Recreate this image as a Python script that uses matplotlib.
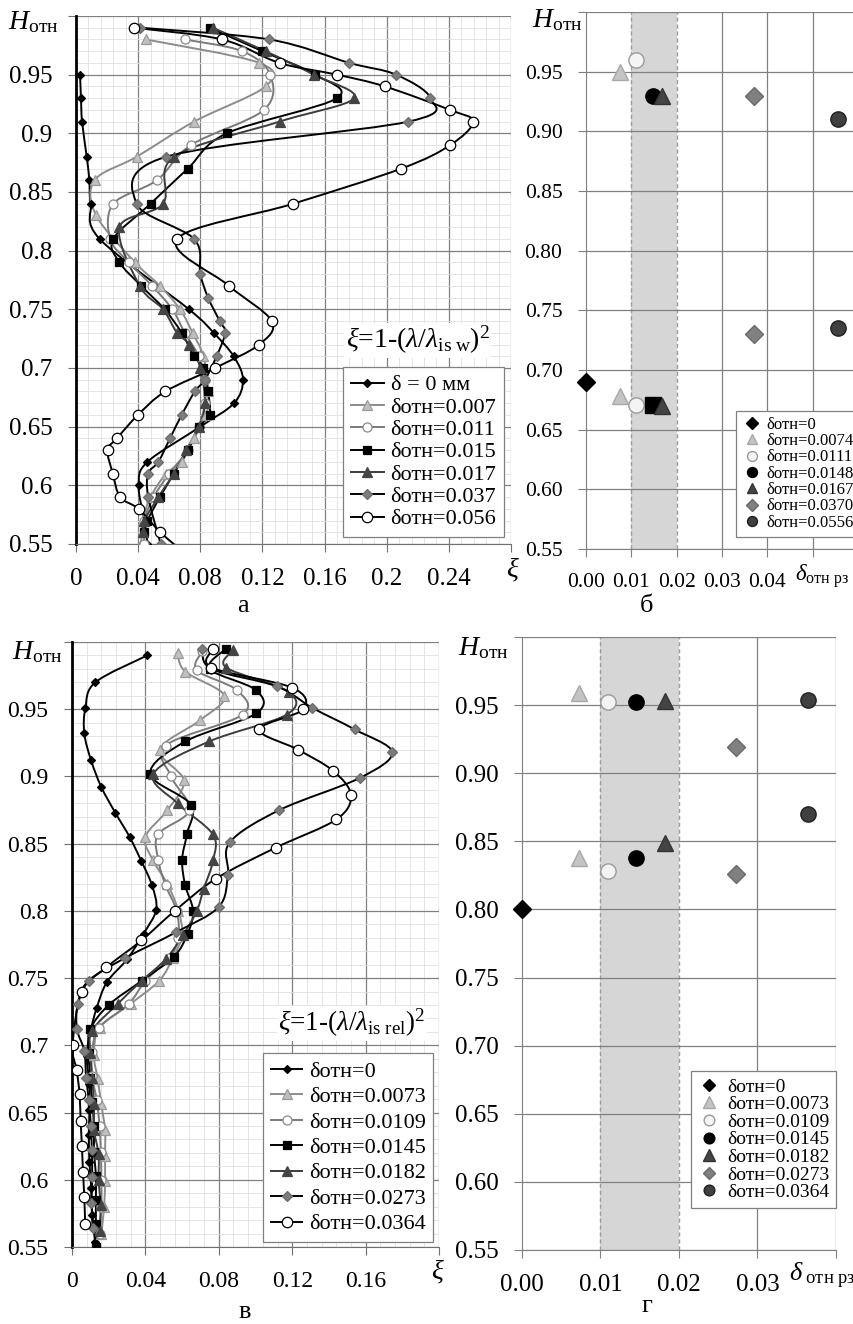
import numpy as np
import matplotlib
matplotlib.use("Agg")
import matplotlib.pyplot as plt
from matplotlib.path import Path
from matplotlib.patches import PathPatch
from matplotlib.lines import Line2D
from matplotlib.ticker import MultipleLocator, FuncFormatter

plt.rcParams["font.family"] = ["Liberation Serif", "DejaVu Serif"]
plt.rcParams["mathtext.fontset"] = "custom"
plt.rcParams["mathtext.rm"] = "Liberation Serif"
plt.rcParams["mathtext.it"] = "Liberation Serif:italic"
plt.rcParams["mathtext.bf"] = "Liberation Serif:bold"

# ---------------- panel а : xi profiles (lambda_is w) ----------------
a_labels = ["δ = 0 мм", "δотн=0.007", "δотн=0.011", "δотн=0.015",
            "δотн=0.017", "δотн=0.037", "δотн=0.056"]

a0_h = [0.95, 0.93, 0.91, 0.88, 0.86, 0.84, 0.81, 0.75, 0.73, 0.71, 0.69, 0.67,
        0.65, 0.62, 0.60, 0.57, 0.55]
a0_xi = [0.0026, 0.0032, 0.0039, 0.0069, 0.0086, 0.0095, 0.0152, 0.0727, 0.0886,
         0.1015, 0.1075, 0.1017, 0.080, 0.046, 0.0403, 0.044, 0.046]

a007_h = [0.98, 0.96, 0.94, 0.91, 0.88, 0.86, 0.83, 0.79, 0.77, 0.75, 0.73, 0.71,
          0.68, 0.66, 0.64, 0.62, 0.61, 0.59, 0.57, 0.55]
a007_xi = [0.045, 0.118, 0.122, 0.076, 0.039, 0.012, 0.013, 0.038, 0.054, 0.067,
           0.075, 0.082, 0.085, 0.084, 0.076, 0.068, 0.058, 0.048, 0.043, 0.042]

a011_h = [0.98, 0.97, 0.95, 0.92, 0.89, 0.86, 0.84, 0.81, 0.79, 0.77, 0.75, 0.73,
          0.71, 0.69, 0.67, 0.65, 0.63, 0.61, 0.59, 0.57, 0.55]
a011_xi = [0.070, 0.107, 0.125, 0.121, 0.074, 0.052, 0.024, 0.022, 0.034, 0.049,
           0.062, 0.070, 0.079, 0.083, 0.083, 0.079, 0.072, 0.060, 0.050, 0.044, 0.044]

a015_h = [0.99, 0.97, 0.95, 0.93, 0.90, 0.87, 0.84, 0.81, 0.79, 0.77, 0.75, 0.73,
          0.71, 0.70, 0.68, 0.66, 0.65, 0.63, 0.61, 0.59, 0.57, 0.56]
a015_xi = [0.086, 0.120, 0.154, 0.168, 0.097, 0.072, 0.048, 0.024, 0.028, 0.042,
           0.057, 0.068, 0.076, 0.082, 0.085, 0.086, 0.079, 0.072, 0.063, 0.054,
           0.046, 0.044]

a017_h = [0.99, 0.97, 0.95, 0.93, 0.91, 0.88, 0.84, 0.82, 0.77, 0.75, 0.73, 0.72,
          0.70, 0.67, 0.65, 0.63, 0.61, 0.59, 0.57, 0.56]
a017_xi = [0.088, 0.122, 0.153, 0.179, 0.131, 0.063, 0.056, 0.028, 0.041, 0.056,
           0.065, 0.073, 0.080, 0.083, 0.079, 0.071, 0.063, 0.053, 0.044, 0.043]

a037_h = [0.99, 0.98, 0.96, 0.95, 0.93, 0.91, 0.88, 0.84, 0.81, 0.78, 0.76, 0.74,
          0.73, 0.71, 0.69, 0.68, 0.66, 0.64, 0.62, 0.61, 0.59, 0.55]
a037_xi = [0.0415, 0.1245, 0.176, 0.206, 0.228, 0.214, 0.058, 0.039, 0.076, 0.080,
           0.085, 0.0925, 0.096, 0.0905, 0.083, 0.0765, 0.068, 0.0605, 0.053,
           0.0465, 0.0465, 0.0545]

a056_h = [0.99, 0.98, 0.96, 0.95, 0.94, 0.92, 0.91, 0.89, 0.87, 0.84, 0.81, 0.77,
          0.74, 0.72, 0.70, 0.68, 0.66, 0.64, 0.63, 0.61, 0.59, 0.58, 0.56, 0.54]
a056_xi = [0.0374, 0.094, 0.131, 0.168, 0.1987, 0.2406, 0.2557, 0.2409, 0.2095,
           0.1398, 0.0651, 0.0985, 0.126, 0.1179, 0.0894, 0.0575, 0.0399, 0.0263,
           0.0203, 0.0237, 0.0284, 0.0403, 0.0543, 0.072]

# ---------------- panel б : position of xi maximum ----------------
b_labels = ["δотн=0", "δотн=0.0074", "δотн=0.0111", "δотн=0.0148",
            "δотн=0.0167", "δотн=0.0370", "δотн=0.0556"]
b_delta = [0.0, 0.0074, 0.0111, 0.0148, 0.0167, 0.0370, 0.0556]
b_h_upper = [None, 0.95, 0.96, 0.93, 0.93, 0.93, 0.91]
b_h_lower = [0.69, 0.678, 0.671, 0.671, 0.67, 0.73, 0.735]

# ---------------- panel в : xi profiles (lambda_is rel) ----------------
v_labels = ["δотн=0", "δотн=0.0073", "δотн=0.0109", "δотн=0.0145",
            "δотн=0.0182", "δотн=0.0273", "δотн=0.0364"]

v0_h = [0.99, 0.97, 0.951, 0.932, 0.912, 0.892, 0.873, 0.855, 0.837, 0.819, 0.801,
        0.783, 0.764, 0.747, 0.728, 0.71, 0.692, 0.671, 0.652, 0.633, 0.613, 0.594,
        0.574, 0.554]
v0_xi = [0.041, 0.0127, 0.0073, 0.0067, 0.0104, 0.016, 0.0236, 0.0314, 0.0378,
         0.0436, 0.0459, 0.039, 0.030, 0.019, 0.0135, 0.010, 0.008, 0.0095, 0.0095,
         0.0092, 0.0095, 0.0105, 0.011, 0.0126]

v0073_h = [0.992, 0.978, 0.96, 0.942, 0.92, 0.897, 0.875, 0.855, 0.838, 0.82, 0.80,
           0.782, 0.765, 0.748, 0.731, 0.713, 0.693, 0.675, 0.656, 0.637, 0.618,
           0.599, 0.58, 0.56]
v0073_xi = [0.0575, 0.0617, 0.083, 0.070, 0.048, 0.061, 0.052, 0.040, 0.044, 0.052,
            0.058, 0.060, 0.055, 0.0475, 0.032, 0.015, 0.012, 0.014, 0.016, 0.018,
            0.018, 0.018, 0.0175, 0.016]

v0109_h = [0.993, 0.979, 0.964, 0.946, 0.923, 0.90, 0.875, 0.857, 0.838, 0.819,
           0.80, 0.78, 0.765, 0.748, 0.731, 0.713, 0.695, 0.677, 0.659, 0.64, 0.621,
           0.60, 0.58, 0.56]
v0109_xi = [0.071, 0.068, 0.090, 0.093, 0.051, 0.054, 0.064, 0.047, 0.047, 0.051,
            0.057, 0.058, 0.053, 0.040, 0.031, 0.0146, 0.011, 0.011, 0.0135, 0.015,
            0.0157, 0.016, 0.016, 0.015]

v0145_h = [0.995, 0.98, 0.964, 0.947, 0.926, 0.902, 0.879, 0.857, 0.838, 0.819,
           0.80, 0.783, 0.766, 0.748, 0.73, 0.712, 0.694, 0.676, 0.658, 0.64, 0.621,
           0.603, 0.585, 0.567, 0.55]
v0145_xi = [0.084, 0.075, 0.1005, 0.1005, 0.0617, 0.0426, 0.0648, 0.0626, 0.060,
            0.0617, 0.066, 0.063, 0.0556, 0.038, 0.020, 0.010, 0.009, 0.010, 0.011,
            0.012, 0.012, 0.013, 0.013, 0.013, 0.013]

v0182_h = [0.994, 0.981, 0.963, 0.946, 0.926, 0.902, 0.88, 0.857, 0.838, 0.816,
           0.80, 0.782, 0.764, 0.748, 0.731, 0.711, 0.694, 0.676, 0.656, 0.637,
           0.619, 0.60, 0.581, 0.562]
v0182_xi = [0.088, 0.084, 0.118, 0.117, 0.0747, 0.0444, 0.0575, 0.0767, 0.077,
            0.0717, 0.068, 0.0605, 0.051, 0.038, 0.025, 0.011, 0.010, 0.011, 0.012,
            0.012, 0.0145, 0.0145, 0.0156, 0.015]

v0273_h = [0.995, 0.98, 0.967, 0.951, 0.935, 0.918, 0.899, 0.875, 0.851, 0.827,
           0.803, 0.784, 0.765, 0.748, 0.731, 0.712, 0.696, 0.676, 0.659, 0.64,
           0.622, 0.602, 0.583, 0.564]
v0273_xi = [0.071, 0.076, 0.1116, 0.131, 0.154, 0.1745, 0.157, 0.113, 0.086, 0.085,
            0.080, 0.0565, 0.029, 0.009, 0.0032, 0.0027, 0.0067, 0.0077, 0.0092,
            0.0103, 0.0108, 0.011, 0.0106, 0.0114]

v0364_h = [0.995, 0.981, 0.966, 0.950, 0.935, 0.920, 0.904, 0.886, 0.868, 0.847,
           0.824, 0.80, 0.778, 0.758, 0.74, 0.70, 0.682, 0.664, 0.644, 0.625, 0.606,
           0.587, 0.567]
v0364_xi = [0.077, 0.076, 0.120, 0.126, 0.102, 0.123, 0.1425, 0.152, 0.144, 0.111,
            0.0785, 0.056, 0.0378, 0.0188, 0.0054, 0.0003, 0.0025, 0.0041, 0.0047,
            0.0054, 0.006, 0.0067, 0.0072]

# ---------------- panel г : position of xi maximum ----------------
g_labels = v_labels
g_delta = [0.0, 0.0073, 0.0109, 0.0145, 0.0182, 0.0273, 0.0364]
g_h_upper = [None, 0.959, 0.952, 0.952, 0.953, 0.919, 0.954]
g_h_lower = [0.80, 0.838, 0.828, 0.838, 0.849, 0.826, 0.870]

# ---------------- styles ----------------
LINE_STYLES = [
    dict(lc="black", marker="D", mfc="black", mec="black", ms=4),
    dict(lc="#8c8c8c", marker="^", mfc="#c0c0c0", mec="#9a9a9a", ms=7),
    dict(lc="#7a7a7a", marker="o", mfc="white", mec="#8a8a8a", ms=6.5),
    dict(lc="black", marker="s", mfc="black", mec="black", ms=5.5),
    dict(lc="#3c3c3c", marker="^", mfc="#444444", mec="#444444", ms=6.5),
    dict(lc="black", marker="D", mfc="#7c7c7c", mec="#6c6c6c", ms=5.5),
    dict(lc="black", marker="o", mfc="white", mec="black", ms=7.5),
]
POINT_STYLES = [
    dict(marker="D", mfc="black", mec="black", ms=9),
    dict(marker="^", mfc="#c4c4c4", mec="#a8a8a8", ms=12),
    dict(marker="o", mfc="#f4f4f4", mec="#9a9a9a", ms=11),
    dict(marker="o", mfc="black", mec="black", ms=11),
    dict(marker="^", mfc="#444444", mec="#333333", ms=12),
    dict(marker="D", mfc="#808080", mec="#6a6a6a", ms=9),
    dict(marker="o", mfc="#404040", mec="#202020", ms=11),
]

W, H = 854, 1324
GRID = "#808080"


def fig_xy(x, y):
    return x / W, 1 - y / H


def ax_rect(left, top, right, bottom):
    return [left / W, 1 - bottom / H, (right - left) / W, (bottom - top) / H]


def smooth_path(x, y):
    # Excel-like smoothed line: cubic Bezier through every point
    p = np.column_stack([x, y]).astype(float)
    n = len(p)
    verts = [p[0]]
    codes = [Path.MOVETO]
    for i in range(n - 1):
        p0 = p[i - 1] if i > 0 else p[i]
        p3 = p[i + 2] if i + 2 < n else p[i + 1]
        verts += [p[i] + (p[i + 1] - p0) / 6, p[i + 1] - (p3 - p[i]) / 6, p[i + 1]]
        codes += [Path.CURVE4] * 3
    return Path(verts, codes)


def fmt_g(limit):
    return FuncFormatter(lambda v, pos: "" if v > limit - 1e-9 else f"{round(v, 3):g}")


def fmt_2f(limit):
    return FuncFormatter(lambda v, pos: "" if v > limit - 1e-9 else f"{v:.2f}")


def profile_axes(ax, xmax, labelsize):
    ax.set_xlim(0, xmax)
    ax.set_ylim(0.55, 1.0)
    ax.xaxis.set_major_locator(MultipleLocator(0.04))
    ax.xaxis.set_minor_locator(MultipleLocator(0.008))
    ax.yaxis.set_major_locator(MultipleLocator(0.05))
    ax.yaxis.set_minor_locator(MultipleLocator(0.01))
    ax.xaxis.set_major_formatter(fmt_g(xmax))
    ax.yaxis.set_major_formatter(fmt_g(1.0))
    ax.set_axisbelow(True)
    ax.grid(which="major", color=GRID, lw=0.9)
    ax.grid(which="minor", color="#e0e0e0", lw=0.6)
    for s in ("top", "right"):
        ax.spines[s].set_visible(False)
    ax.spines["left"].set_color("black")
    ax.spines["left"].set_linewidth(2)
    ax.spines["bottom"].set_color("#707070")
    ax.tick_params(which="major", direction="out", length=6, color="#707070",
                   labelsize=labelsize, pad=11)
    ax.tick_params(which="minor", length=0)


def draw_profiles(ax, series, labels):
    handles = []
    for (xi, h), st, lab in zip(series, LINE_STYLES, labels):
        ax.add_patch(PathPatch(smooth_path(xi, h), fill=False, edgecolor=st["lc"],
                               lw=1.4, zorder=3))
        ax.plot(xi, h, ls="none", marker=st["marker"], mfc=st["mfc"], mec=st["mec"],
                ms=st["ms"], mew=0.9, zorder=4)
        handles.append(Line2D([], [], color=st["lc"], lw=1.4, marker=st["marker"],
                              mfc=st["mfc"], mec=st["mec"], ms=st["ms"], mew=0.9,
                              label=lab))
    return handles


def points_axes(ax, xmax, labelsize):
    ax.set_xlim(0, xmax)
    ax.set_ylim(0.55, 1.0)
    ax.xaxis.set_major_locator(MultipleLocator(0.01))
    ax.yaxis.set_major_locator(MultipleLocator(0.05))
    ax.xaxis.set_major_formatter(fmt_2f(min(xmax, 0.05)))
    ax.yaxis.set_major_formatter(fmt_2f(1.0))
    ax.grid(axis="y", color=GRID, lw=0.9, zorder=0.5)
    for t in np.arange(0.0, xmax + 1e-9, 0.01):
        if abs(t - 0.01) > 1e-9 and abs(t - 0.02) > 1e-9 and t > 1e-9:
            ax.axvline(t, color=GRID, lw=0.9, zorder=0.5)
    ax.axvspan(0.01, 0.02, color="#d6d6d6", lw=0, zorder=0.3)
    for t in (0.01, 0.02):
        ax.axvline(t, color="#9c9c9c", lw=1, ls=(0, (3, 2)), zorder=0.6)
    for s in ("top", "right"):
        ax.spines[s].set_visible(False)
    ax.spines["left"].set_color(GRID)
    ax.spines["bottom"].set_color(GRID)
    ax.tick_params(direction="out", length=6, color=GRID, labelsize=labelsize, pad=11)


def draw_points(ax, delta, h_up, h_low, labels, lower_marker=None):
    handles = []
    for i, (d, hu, hl, st, lab) in enumerate(zip(delta, h_up, h_low, POINT_STYLES, labels)):
        kw = dict(ls="none", mfc=st["mfc"], mec=st["mec"], ms=st["ms"], mew=1, zorder=4)
        if hu is not None:
            ax.plot([d], [hu], marker=st["marker"], **kw)
        m_low = lower_marker.get(i, st["marker"]) if lower_marker else st["marker"]
        ax.plot([d], [hl], marker=m_low, clip_on=False, **kw)
        handles.append(Line2D([], [], ls="none", marker=st["marker"], mfc=st["mfc"],
                              mec=st["mec"], ms=st["ms"], mew=1, label=lab))
    return handles


def legend(ax, handles, size, loc, anchor, spacing, markerscale=1.0, hl=1.5):
    lg = ax.legend(handles=handles, loc=loc, bbox_to_anchor=anchor, fontsize=size,
                   frameon=True, fancybox=False, framealpha=1, edgecolor="#808080",
                   labelspacing=spacing, borderaxespad=0, borderpad=0.35,
                   handlelength=hl, handletextpad=0.3, markerscale=markerscale)
    lg.get_frame().set_linewidth(0.9)
    lg.set_zorder(10)
    return lg


fig = plt.figure(figsize=(W / 100, H / 100), dpi=100)

# ---- а ----
ax_a = fig.add_axes(ax_rect(76, 16, 511, 544))
profile_axes(ax_a, 0.28, 18)
h_a = draw_profiles(ax_a, [(a0_xi, a0_h), (a007_xi, a007_h), (a011_xi, a011_h),
                           (a015_xi, a015_h), (a017_xi, a017_h), (a037_xi, a037_h),
                           (a056_xi, a056_h)], a_labels)
legend(ax_a, h_a, 16, "lower right", (0.984, 0.013), 0.08, hl=1.5)
ax_a.text(0.786, 0.386, r"$\xi$=1-($\lambda$/$\lambda_{\mathrm{is\ w}}$)$^2$",
          transform=ax_a.transAxes, ha="center", va="center", fontsize=20,
          zorder=11, bbox=dict(fc="white", ec="none", pad=1))

# ---- б ----
ax_b = fig.add_axes(ax_rect(586, 12, 858, 549))
points_axes(ax_b, 0.06, 15.5)
h_b = draw_points(ax_b, b_delta, b_h_upper, b_h_lower, b_labels, lower_marker={3: "s"})
legend(ax_b, h_b, 12, "upper left", (0.551, 0.257), 0.02, markerscale=0.65, hl=1.2)

# ---- в ----
ax_v = fig.add_axes(ax_rect(72, 642, 439, 1247))
profile_axes(ax_v, 0.20, 17)
h_v = draw_profiles(ax_v, [(v0_xi, v0_h), (v0073_xi, v0073_h), (v0109_xi, v0109_h),
                           (v0145_xi, v0145_h), (v0182_xi, v0182_h), (v0273_xi, v0273_h),
                           (v0364_xi, v0364_h)], v_labels)
legend(ax_v, h_v, 16, "lower right", (0.985, 0.008), 0.22, hl=1.4)
ax_v.text(0.763, 0.37, r"$\xi$=1-($\lambda$/$\lambda_{\mathrm{is\ rel}}$)$^2$",
          transform=ax_v.transAxes, ha="center", va="center", fontsize=19.5,
          zorder=11, bbox=dict(fc="white", ec="none", pad=1))

# ---- г ----
ax_g = fig.add_axes(ax_rect(522, 637, 836, 1250))
points_axes(ax_g, 0.04, 18)
h_g = draw_points(ax_g, g_delta, g_h_upper, g_h_lower, g_labels)
legend(ax_g, h_g, 14, "lower right", (1.0, 0.0685), 0.0, markerscale=0.7, hl=1.2)

# ---- axis captions ----
for x, y in [(8, 22), (532, 20), (12, 652), (458, 648)]:
    fig.text(*fig_xy(x, y), r"$H_{\mathrm{отн}}$", fontsize=20, ha="left", va="center")
fig.text(*fig_xy(512, 570), "ξ", fontsize=20, style="italic", ha="center", va="center")
fig.text(*fig_xy(437, 1272), "ξ", fontsize=20, style="italic", ha="center", va="center")
fig.text(*fig_xy(795, 576), r"$\delta_{\mathrm{отн\ рз}}$", fontsize=16.5, ha="left", va="center")
fig.text(*fig_xy(789, 1276), r"$\delta_{\mathrm{\ отн\ рз}}$", fontsize=19, ha="left", va="center")

for lab, x, y in [("а", 243, 606), ("б", 647, 606), ("в", 245, 1312), ("г", 647, 1306)]:
    fig.text(*fig_xy(x, y), lab, fontsize=19, ha="center", va="center")

fig.savefig("out.png", dpi=100)
